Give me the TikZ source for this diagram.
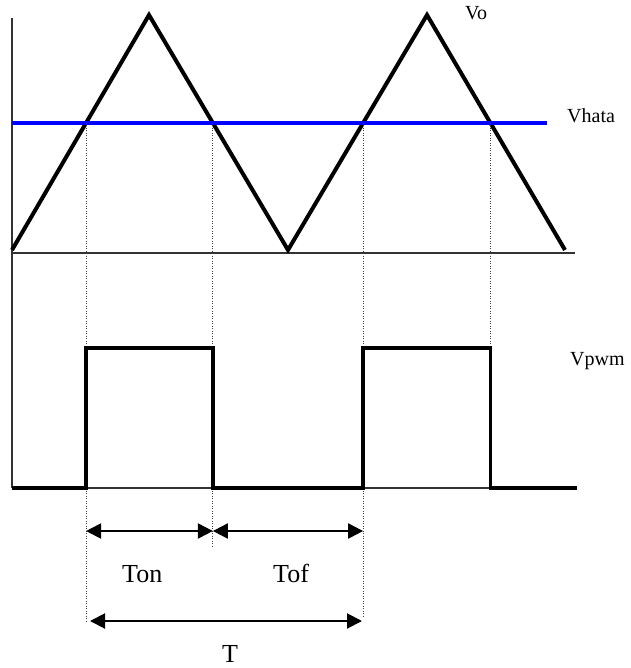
\documentclass[tikz,border=0pt]{standalone}
\usepackage{fontspec}
\setmainfont{Liberation Serif}
\usetikzlibrary{arrows.meta,intersections}
\begin{document}
\begin{tikzpicture}[x=1pt,y=-1pt,
  axisline/.style={line width=1.2pt, black!80},
  wave/.style={line width=4pt, line join=miter, line cap=butt},
  refline/.style={line width=3.5pt, blue},
  guide/.style={line width=1pt, black!75, dash pattern=on 1pt off 1.5pt},
  pulse/.style={line width=3.5pt, line join=miter},
  dimline/.style={line width=2pt, {Triangle[length=15pt,width=15pt]}-{Triangle[length=15pt,width=15pt]}},
  lbl/.style={font=\fontsize{20}{22}\selectfont, anchor=base west, inner sep=0pt},
  biglbl/.style={font=\fontsize{26}{28}\selectfont, anchor=base west, inner sep=0pt}]
\useasboundingbox (0,0) rectangle (630,668);

% levels
\coordinate (yax) at (0,253);
\coordinate (yhi) at (0,348);
\coordinate (ylo) at (0,488);
\coordinate (ya) at (0,531);

% axes
\draw[axisline] (12,18) -- (12,488);
\draw[axisline] (12,253) -- (575,253);
\draw[axisline] (12,488) -- (577,488);

% triangle carrier and reference
\draw[wave, name path=tri] (12,250) -- (149,15) -- (288,250) -- (427,15) -- (565,250);
\draw[refline, name path=ref] (12,123) -- (547,123);
\path[name intersections={of=ref and tri, sort by=ref, by={c1,c2,c3,c4}}];

% guides
\coordinate (g1) at (c1 |- 0,623);
\coordinate (g2) at (c2 |- 0,548);
\coordinate (g3) at (c3 |- 0,617);
\coordinate (g4) at (c4 |- yhi);
\draw[guide] (c1) -- (g1);
\draw[guide] (c2) -- (g2);
\draw[guide] (c3) -- (g3);
\draw[guide] (c4) -- (g4);

% PWM
\draw[pulse] (12,488) -- (c1 |- ylo) -- (c1 |- yhi) -- (c2 |- yhi) -- (c2 |- ylo)
  -- (c3 |- ylo) -- (c3 |- yhi) -- (c4 |- yhi) -- (c4 |- ylo) -- (577,488);

% dimensions
\coordinate (a1) at (c1 |- ya);
\coordinate (a2) at (c2 |- ya);
\coordinate (a3) at (c3 |- ya);
\coordinate (t1) at (90,621);
\coordinate (t2) at (362,621);
\draw[dimline] (a1) -- (a2);
\draw[dimline] (a2) -- (a3);
\draw[dimline] (t1) -- (t2);

% labels
\node[lbl] (vo) at (465,20) {Vo};
\node[lbl] (vhata) at (567,123) {Vhata};
\node[lbl] (vpwm) at (570,365) {Vpwm};
\node[biglbl] (ton) at (122,582) {Ton};
\node[biglbl] (tof) at (273,582) {Tof};
\node[biglbl] (tt) at (222,662) {T};
\end{tikzpicture}
\end{document}
